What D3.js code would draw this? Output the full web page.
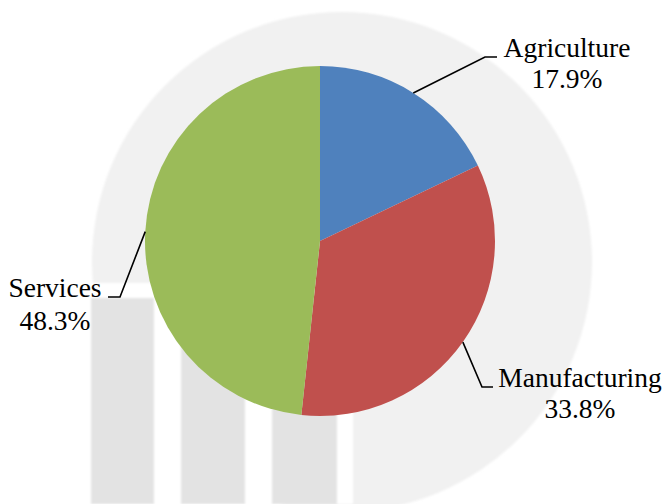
<!DOCTYPE html>
<html>
<head>
<meta charset="utf-8">
<script src="https://cdn.jsdelivr.net/npm/d3@7"></script>
<style>
  html, body { margin: 0; padding: 0; background: #fff; }
  #wrap { position: relative; width: 667px; height: 504px; overflow: hidden; }
  svg { display: block; position: absolute; left: 0; top: 0; }
  .lbl {
    position: absolute;
    font-family: "Liberation Serif", Tinos, serif;
    font-size: 27.5px;
    line-height: 31px;
    color: #000;
    text-align: center;
    white-space: nowrap;
    transform: translateX(-50%);
  }
</style>
</head>
<body>
<div id="wrap"><svg id="chart" width="667" height="504"></svg></div>
<script>
// Sector shares of output (%)
const sectors = ["Agriculture", "Manufacturing", "Services"];
const shares = [17.9, 33.8, 48.3];
const sectorColors = ["#4f81bd", "#c0504d", "#9bbb59"];

const W = 667, H = 504;
const svg = d3.select("#chart");

// Faint backdrop emblem: a disc with three upright blocks at its foot
const defs = svg.append("defs");
defs.append("filter").attr("id", "soft")
  .append("feGaussianBlur").attr("stdDeviation", 0.8);
const bg = svg.append("g").attr("filter", "url(#soft)");

bg.append("circle").attr("cx", 342).attr("cy", 262).attr("r", 250).attr("fill", "#f1f1f1");
bg.append("rect").attr("x", 0).attr("y", 283).attr("width", 353).attr("height", H - 283).attr("fill", "#fff");
[[91, 154], [181, 245], [272, 337]].forEach(([x0, x1]) => {
  bg.append("rect").attr("x", x0).attr("y", 298).attr("width", x1 - x0).attr("height", H - 298).attr("fill", "#e3e3e3");
});

// Pie
const cx = 320, cy = 241, R = 175;
const data = sectors.map((s, i) => ({ name: s, value: shares[i], color: sectorColors[i] }));
const pie = d3.pie().value(d => d.value).sort(null);
const arcs = pie(data);
const arc = d3.arc().innerRadius(0).outerRadius(R);

const g = svg.append("g").attr("transform", `translate(${cx},${cy})`);
g.selectAll("path.slice").data(arcs).join("path")
  .attr("class", "slice")
  .attr("d", arc)
  .attr("fill", d => d.data.color);

// Label layout: elbow of the leader line, end of its flat run, text centre and first baseline
const labelLayout = {
  Agriculture:   { elbow: [485, 57],  end: [497, 57],  text: [567, 57],  lineH: 31 },
  Manufacturing: { elbow: [482, 387], end: [493, 387], text: [580, 387], lineH: 31 },
  Services:      { elbow: [120, 297], end: [108, 297], text: [55, 297],  lineH: 33 }
};
// distance from the top of a line box to its baseline for the label font
const baselineOffset = 24.8;

const fmt = v => v.toFixed(1) + "%";
const wrap = d3.select("#wrap");
arcs.forEach(a => {
  const L = labelLayout[a.data.name];
  const mid = (a.startAngle + a.endAngle) / 2;
  const sx = cx + R * Math.sin(mid), sy = cy - R * Math.cos(mid);
  svg.append("path")
    .attr("d", d3.line()([[sx, sy], L.elbow, L.end]))
    .attr("fill", "none").attr("stroke", "#000").attr("stroke-width", 1.6);
  [a.data.name, fmt(a.data.value)].forEach((str, k) => {
    wrap.append("div")
      .attr("class", "lbl")
      .style("left", L.text[0] + "px")
      .style("top", (L.text[1] + k * L.lineH - baselineOffset) + "px")
      .text(str);
  });
});
</script>
</body>
</html>
